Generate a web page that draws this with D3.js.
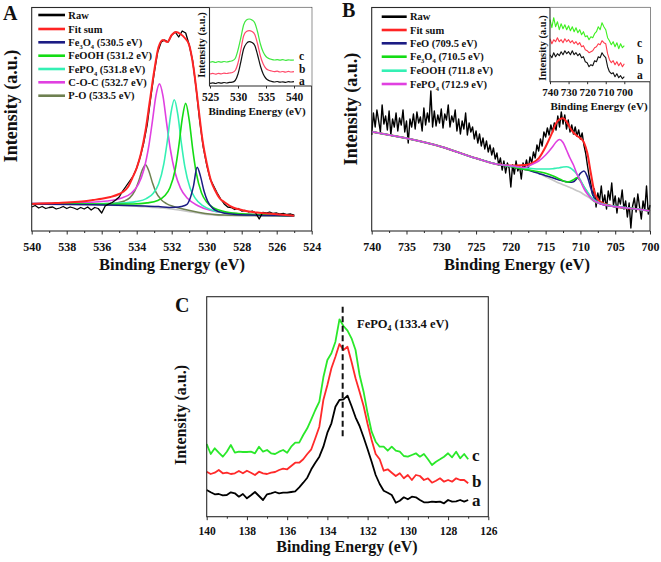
<!DOCTYPE html>
<html><head><meta charset="utf-8">
<script src="https://cdn.jsdelivr.net/npm/d3@7"></script>
<style>body{margin:0;background:#fff} svg text{font-family:"Liberation Serif","Times New Roman",Times,serif;font-weight:bold}</style>
</head><body>
<svg id="c" width="661" height="562"></svg>
<script>
// ================= DATA =================
// Panel A (O 1s) main: energies (eV) and intensities (a.u.)
const aTicks = [540,538,536,534,532,530,528,526,524];
const aMinor = [539,537,535,533,531,529,527,525];
const aRawStart = 540, aRawStep = -0.2;
const aRaw = [24,25.5,23,24.5,22.5,23.5,24,22,23,24.5, 22.5,24,23,21.5,23.5,22,24,21,23.5,22.5,
  18,25,27,28.5,31,34,40,45,50,55, 63,74,88,106,133,158,179,189,191,189,
  196,199,194,200,198,186,170,142,110,84, 66,52,45,38,32,27,24,23.5,21.5,22.5,
  20,20.5,19,20,18,12,18.5,18,19,17.5, 18,17,17.5,16.5,17,16];
const aFitE = [540,539,538,537,536.5,536,535.5,535,534.75,534.5,534.25,534,533.75,533.5,533.25,533,532.75,532.5,532.25,532,531.75,531.5,531.25,531,530.75,530.5,530.25,530,529.75,529.5,529.25,529,528.5,528,527.5,527,526,525];
const aFitV = [27,27.8,28.6,29.8,31,32.2,34,37,39.5,44,53,63,78,100,130,160,184,191,189,196,199,197,193,186,163,128,92,68,50,40,32.5,29,23.5,21,19.3,18.3,16.8,15.3];
const aBgE = [540,538,536,535,534,533.5,533,532.5,532,531.5,531,530.5,530,529.5,529,528,526,525];
const aBgV = [27,26.7,26,25.5,24.7,24.2,23.5,23,22,20.7,19.3,18,16.5,15.8,15.5,15.3,15.1,15];
const aFe3O4E = [540,535.05,533.55,532.75,532.15,531.75,531.45,531.15,530.95,530.75,530.55,530.35,530.15,529.95,529.65,529.35,528.95,528.35,527.55,526.05,525];
const aFe3O4V = [27.1,25.8,24.95,24.4,23.5,23.65,24.45,26.3,32.6,45.45,63.75,54.35,39.75,29.85,22.6,19.6,17.8,16.6,15.95,15.4,15.05];
const aFeOOHE = [540,535.7,534.2,533.4,532.8,532.4,532.1,531.8,531.6,531.4,531.2,531.0,530.8,530.6,530.3,530.0,529.6,529.0,528.2,526.7,525];
const aFeOOHV = [27.3,26.9,27,28.1,30.5,35.2,43.2,61.5,84.1,112,127.6,110.9,81.9,58.3,38.3,28.9,23.1,19.5,17.5,16.2,15.3];
const aFePO4E = [540,536.35,534.85,534.05,533.45,533.05,532.75,532.45,532.25,532.05,531.85,531.65,531.45,531.25,530.95,530.65,530.25,529.65,528.85,527.35,525];
const aFePO4V = [27.4,27.2,27.9,29.4,32.4,37.8,46.9,67.2,90,117.2,131.3,116.3,88.1,64.3,42.9,32.6,25.6,20.6,18,16.3,15.4];
const aCOCE = [540,537.2,535.7,534.9,534.3,533.9,533.6,533.3,533.1,532.9,532.7,532.5,532.3,532.1,531.8,531.5,531.1,530.5,529.7,528.2,525];
const aCOCV = [27.7,28.3,30,32.7,38,46.8,60.8,85.9,110.2,135.4,147.1,135.1,109.2,84.2,58,42.9,32.7,25.3,20.2,17.2,15.6];
const aPOE = [540,538,536.5,535.7,535.1,534.7,534.4,534.1,533.9,533.7,533.5,533.3,533.1,532.9,532.6,532.3,531.9,531.3,530.5,529,525];
const aPOV = [27.2,27.1,26.9,27.45,28.35,30.05,33.15,40.3,49.2,60.2,66.3,59.7,48.2,38.9,31.3,27.4,24.5,21.7,18.8,15.9,15.1];

// Panel A inset (samples a, b, c)
const aiTicks = [525,530,535,540];
const aiStart = 525, aiStep = 0.5;
const aiA = [2.7,3.2,2.5,3.4,2.8,3.5,3,3.6,3.8,5.5,12,24,37,42.5,44.3,43.5,40.5,31,20,12,7.5,5.5,4.6,4,4.5,3.8,4.2,3.6,4.4,4,4.3];
const aiB = [12,12.6,11.8,12.7,12.2,12.9,12.5,13,13.5,15.5,23,36,50,54.5,55.3,54.5,51.5,42,30,22,17.5,15.8,15,14.4,14.8,14,14.5,13.8,14.6,14,14.3];
const aiC = [23.7,24.3,23.5,24.4,23.8,24.5,24,24.6,25.3,27.5,36,48,61,66,67,66,63,54,42,34,29.5,27.5,26.6,26,26.4,25.8,26.3,25.7,26.2,25.8,26];

// Panel B (Fe 2p) main
const bTicks = [740,735,730,725,720,715,710,705,700];
const bMinor = [737.5,732.5,727.5,722.5,717.5,712.5,707.5,702.5];
const bRawStart = 740, bRawStep = -0.25;
const bRaw = [96,118,104,121, 110,99,126,107, 115,101,120,96,
  112,104,118,100, 113,106,121,99, 110,88,112,104,
  117,102,119,108, 114,100,123,106, 118,109,140,104,
  120,105,116,108, 122,103,117,111, 126,104,115,109,
  121,100,112,97, 110,102,118,96, 108,99,104,92,
  100,88,97,85, 93,82,90,79, 86,76,83,72,
  78,66,73,61, 70,58,68,63, 44,66,57,70,
  60,65,52,68, 63,71,62,74, 68,79,73,86,
  80,92,85,99, 94,103,96,106, 99,108,101,115,
  104,119,107,116, 102,111,99,106, 97,104,95,101,
  92,98,86,78, 66,55,47,36, 42,24,38,30,
  45,27,36,22, 40,31,48,26, 35,18,33,27,
  41,22,30,14, 28,3,25,33, 19,37,24,12,
  30,21,45,17, 26];
const bE = [740,735,730,725,722,720,718,717,716,715,714,713.5,713,712.5,712,711.5,711,710.5,710,709.5,709,708.5,708,707.5,707,706,705,702,700];
const bBg    = [99.3,92.7,84.3,72.7,66.7,64.7,62,60.3,57.7,54.3,51,49.3,47.7,46.3,45,43.5,42,40.3,38.7,36.5,34.3,32,29.3,28,26.7,25.3,24.3,22,20];
const bFit   = [99.3,92.7,84.3,72.7,66.7,65.5,66,67.7,72.7,84.3,99.3,107.7,111.7,112.7,109.3,103.3,98.3,95.3,92.7,88.7,77.7,57.7,39.3,31.7,28.7,26,24.3,22,20];
const bFeO   = [99.3,92.7,84.3,72.7,66.7,64.5,61.5,59.8,57.6,55.3,53.3,52,51,50,49.3,48.7,49.3,52.7,57.7,60,54.3,42.7,32.7,28.7,26.9,25.4,24.4,22,20];
const bFe3O4 = [99.3,92.7,84.3,72.7,66.7,64.5,61.5,60.5,59.3,57.7,55.3,53.7,52,50.3,49,49.5,51.3,53.3,50,44.3,38.7,33.3,30,28.2,27.2,25.6,24.5,22,20];
const bFeOOH = [99.3,92.7,84.3,72.7,66.7,65,63,62.5,62,62,62.3,62.8,63.3,64,64.3,63.3,60.7,56.7,51,44.3,39.3,34.3,31,28.8,27.4,25.7,24.6,22.1,20];
const bFePO4 = [99.3,92.7,84.3,72.7,66.7,65.2,63.5,66.5,70,76,84.3,89,91.5,88.5,81,73,66,57,50,42.5,37,33,30,28.4,27,25.5,24.4,22,20];

// Panel B inset (samples a, b, c)
const biTicks = [740,730,720,710,700];
const biStart = 740, biStep = -1;
const biA = [27,24,29,25,28,26,30,27,31,28,30,27,31,27,29,26,28,24,25,20,19,15,17,16,21,20,25,24,29,26,24,15,10,8,9,5,8,4,6,3,5];
const biB = [43,38,42,40,44,40,42,39,43,40,42,39,41,38,40,37,39,35,36,32,31,29,30,31,34,35,38,37,41,39,38,28,22,19,21,17,20,16,19,15,18];
const biC = [62,54,64,55,60,52,58,53,57,52,56,51,55,50,54,49,52,47,50,45,46,42,45,44,48,50,55,52,59,55,52,44,41,37,40,35,39,33,38,34,36];

// Panel C (P 2p)
const cTicks = [140,138,136,134,132,130,128,126];
const cMinor = [139,137,135,133,131,129,127];
const cStart = 140, cStep = -0.2;
const cA = [26.7,24.4,22.4,22.7,21.4,21.7,24.4,23.4,20,22.7, 18.4,21.4,24.7,20.7,16.7,22.4,23.4,24.7,23.4,24,
  24,24.7,25.4,29.4,34,39,47.4,54,60,70, 84,93.4,110,116.7,117.4,121,110.7,99.4,90.7,79.4,
  67.4,55,41.7,32.7,26,24,21.7,14,16,19.4, 17.4,20,19.4,16.7,14.4,14.4,15,14.7,15,13.4,
  16.7,15,15.4,16.7,15,16.7];
const cB = [45,42.7,44,46.7,43.4,44,42.7,43.4,45.7,43.4, 46,44,41.7,45,43.4,42.7,44,44.7,46.7,48,
  47.4,50.7,54,54,57.4,62.7,67.4,78.4,90,116.7, 131.7,148.4,160,172.7,166.7,170,155,138.4,125,110.7,
  92.7,76.7,62.7,57.4,46,47.4,44,40.7,43.4,38.4, 41.7,36.7,41.7,40.7,36.7,38.4,34,36,38.4,35,
  36.7,35,38.4,36.7,36.7,33.4];
const cC = [72.7,62.7,68.4,64,60,65,71.7,64,65,64.7, 64.7,65,63.4,70,65,66.7,63.4,62.7,65,66.7,
  64,70,74,74,81.7,88.4,97.4,106.7,115,139.4, 156.7,163.4,175,197.4,190.7,186,178.4,166.7,141.7,125,
  103.4,85,75,70,70,66,70,66,65,60.7, 60,61.7,63.4,60,62.7,57.4,51.7,55,57.4,60,
  63.4,59.4,65,58.4,62.7,57.4];
const cMarker = 133.24;

// ================= DRAWING =================
const SERIF = '"Liberation Serif","Times New Roman",Times,serif';
const COL = {raw:'#000', fit:'#ff2424', navy:'#1c1c84', green:'#14dc14', teal:'#34f0b4',
  magenta:'#e040e0', olive:'#6e8050', bg:'#c6c6c6', frame:'#2a2a2a'};
const svg = d3.select('#c');

const zip = (E,V) => E.map((e,i)=>[e,V[i]]);
const grid = (s,st,V) => V.map((v,i)=>[s+st*i, v]);

function drawLine(g, data, x, y, color, w, curve){
  g.append('path').datum(data)
    .attr('fill','none').attr('stroke',color).attr('stroke-width',w)
    .attr('stroke-linejoin','round')
    .attr('d', d3.line().x(d=>x(d[0])).y(d=>y(d[1])).curve(curve||d3.curveLinear));
}
function txt(x,y,s,fs,anchor,rot){
  const t = svg.append('text').attr('x',x).attr('y',y).text(s)
    .attr('font-family',SERIF).attr('font-weight','bold').attr('font-size',fs)
    .attr('fill','#111').attr('text-anchor',anchor||'start');
  if(rot) t.attr('transform',`rotate(${rot},${x},${y})`);
  return t;
}
function rich(x,y,parts,fs){
  const t = svg.append('text').attr('x',x).attr('y',y)
    .attr('font-family',SERIF).attr('font-weight','bold').attr('font-size',fs).attr('fill','#111');
  let sub=false;
  parts.forEach(p=>{
    const isSub = Array.isArray(p);
    const s = isSub ? p[0] : p;
    const ts = t.append('tspan').text(s);
    if(isSub && !sub){ ts.attr('dy',fs*0.3).attr('font-size',fs*0.62); sub=true; }
    else if(isSub){ ts.attr('font-size',fs*0.62); }
    else if(sub){ ts.attr('dy',-fs*0.3); sub=false; }
  });
  return t;
}
function xAxis(scale, y, major, minor, fs, pad, size){
  const g = svg.append('g').attr('transform',`translate(0,${y})`)
    .call(d3.axisBottom(scale).tickValues(major).tickSize(size||3.5).tickPadding(pad).tickFormat(d3.format('d')));
  g.attr('font-family',SERIF);
  g.select('.domain').remove();
  g.selectAll('line').attr('stroke',COL.frame);
  g.selectAll('text').attr('font-family',SERIF).attr('font-weight','bold').attr('font-size',fs).attr('fill','#111');
  if(minor){
    const m = svg.append('g').attr('transform',`translate(0,${y})`)
      .call(d3.axisBottom(scale).tickValues(minor).tickSize(2).tickFormat(''));
    m.select('.domain').remove();
    m.selectAll('line').attr('stroke',COL.frame);
  }
}
function frame(x0,y0,x1,y1){
  svg.append('rect').attr('x',x0).attr('y',y0).attr('width',x1-x0).attr('height',y1-y0)
    .attr('fill','none').attr('stroke',COL.frame).attr('stroke-width',1.1);
}
function legend(x0,x1,tx,rows,items,fs){
  items.forEach((it,i)=>{
    svg.append('line').attr('x1',x0).attr('x2',x1).attr('y1',rows[i]).attr('y2',rows[i])
      .attr('stroke',it.c).attr('stroke-width',2.6);
    rich(tx, rows[i]+3.6, it.t, fs);
  });
}

// ---------- Panel A ----------
const xA = d3.scaleLinear().domain([540,524]).range([31.7,311.7]);
const yA = d3.scaleLinear().domain([0,223.5]).range([231,7.5]);
const gA = svg.append('g');
drawLine(gA, zip(aBgE,aBgV), xA, yA, COL.bg, 1.6, d3.curveMonotoneX);
drawLine(gA, zip(aPOE,aPOV), xA, yA, COL.olive, 1.5, d3.curveMonotoneX);
drawLine(gA, zip(aCOCE,aCOCV), xA, yA, COL.magenta, 1.6, d3.curveMonotoneX);
drawLine(gA, zip(aFePO4E,aFePO4V), xA, yA, COL.teal, 1.6, d3.curveMonotoneX);
drawLine(gA, zip(aFeOOHE,aFeOOHV), xA, yA, COL.green, 1.6, d3.curveMonotoneX);
drawLine(gA, zip(aFe3O4E,aFe3O4V), xA, yA, COL.navy, 1.5, d3.curveMonotoneX);
drawLine(gA, grid(aRawStart,aRawStep,aRaw), xA, yA, COL.raw, 1.3);
drawLine(gA, zip(aFitE,aFitV), xA, yA, COL.fit, 2, d3.curveMonotoneX);
frame(31.7,7.5,311.7,231);
xAxis(xA, 231, aTicks, aMinor, 12, 8);
txt(172,270,'Binding Energy (eV)',16.5,'middle');
txt(16.5,106,'Intensity (a.u.)',18,'middle',-90);
txt(3,20,'A',20);
legend(38.3,65,68.3,[15,29,42.3,55.7,69,82.3,95.7],[
  {c:COL.raw,t:['Raw']},
  {c:COL.fit,t:['Fit sum']},
  {c:COL.navy,t:['Fe',['3'],'O',['4'],' (530.5 eV)']},
  {c:COL.green,t:['FeOOH (531.2 eV)']},
  {c:COL.teal,t:['FePO',['4'],' (531.8 eV)']},
  {c:COL.magenta,t:['C-O-C (532.7 eV)']},
  {c:COL.olive,t:['P-O (533.5 eV)']}
],10.5);

// Panel A inset
const xAI = d3.scaleLinear().domain([525,540]).range([210,294]);
const yAI = d3.scaleLinear().domain([0,78.5]).range([86,7.5]);
svg.append('rect').attr('x',209.5).attr('y',7.5).attr('width',102.2).attr('height',78.5).attr('fill','#fff');
const gAI = svg.append('g');
drawLine(gAI, grid(aiStart,aiStep,aiA), xAI, yAI, '#111', 1.2, d3.curveMonotoneX);
drawLine(gAI, grid(aiStart,aiStep,aiB), xAI, yAI, '#ff4a6a', 1.2, d3.curveMonotoneX);
drawLine(gAI, grid(aiStart,aiStep,aiC), xAI, yAI, '#3ee83e', 1.2, d3.curveMonotoneX);
svg.append('path').attr('d','M209.5,7.5V86H311.7').attr('fill','none').attr('stroke',COL.frame).attr('stroke-width',1.1);
xAxis(xAI, 86, aiTicks, null, 11.5, 4, 2.5);
txt(257,114.5,'Binding Energy (eV)',11,'middle');
txt(204.5,45,'Intensity (a.u.)',10.5,'middle',-90);
txt(299,59.5,'c',11.5); txt(299,72.5,'b',11.5); txt(299,85,'a',11.5);

// ---------- Panel B ----------
const xB = d3.scaleLinear().domain([740,700]).range([371.7,650]);
const yB = d3.scaleLinear().domain([0,223.5]).range([231,7.5]);
const gB = svg.append('g');
drawLine(gB, grid(bRawStart,bRawStep,bRaw), xB, yB, COL.raw, 1.4);
drawLine(gB, zip(bE,bFit), xB, yB, COL.fit, 2, d3.curveMonotoneX);
drawLine(gB, zip(bE,bBg), xB, yB, COL.bg, 1.6, d3.curveMonotoneX);
drawLine(gB, zip(bE,bFeO), xB, yB, COL.navy, 1.6, d3.curveMonotoneX);
drawLine(gB, zip(bE,bFe3O4), xB, yB, COL.green, 1.6, d3.curveMonotoneX);
drawLine(gB, zip(bE,bFeOOH), xB, yB, COL.teal, 1.6, d3.curveMonotoneX);
drawLine(gB, zip(bE,bFePO4), xB, yB, COL.magenta, 1.6, d3.curveMonotoneX);
frame(371.7,7.5,650,231);
xAxis(xB, 231, bTicks, bMinor, 12, 8);
txt(517,270,'Binding Energy (eV)',16.5,'middle');
txt(356.5,109,'Intensity (a.u.)',18,'middle',-90);
txt(342,17,'B',20);
legend(381.7,406.7,410,[16.7,30,43.3,56.7,70.7,84],[
  {c:COL.raw,t:['Raw']},
  {c:COL.fit,t:['Fit sum']},
  {c:COL.navy,t:['FeO (709.5 eV)']},
  {c:COL.green,t:['Fe',['3'],'O',['4'],' (710.5 eV)']},
  {c:COL.teal,t:['FeOOH (711.8 eV)']},
  {c:COL.magenta,t:['FePO',['4'],' (712.9 eV)']}
],10.5);

// Panel B inset
const xBI = d3.scaleLinear().domain([740,700]).range([550,624.3]);
const yBI = d3.scaleLinear().domain([0,74.2]).range([81.7,7.5]);
svg.append('rect').attr('x',550).attr('y',7.5).attr('width',100).attr('height',74.2).attr('fill','#fff');
const gBI = svg.append('g');
drawLine(gBI, grid(biStart,biStep,biA), xBI, yBI, '#111', 1.1);
drawLine(gBI, grid(biStart,biStep,biB), xBI, yBI, '#ff3a4a', 1.1);
drawLine(gBI, grid(biStart,biStep,biC), xBI, yBI, '#3ef020', 1.1);
svg.append('path').attr('d','M550,7.5V81.7H650').attr('fill','none').attr('stroke',COL.frame).attr('stroke-width',1.1);
xAxis(xBI, 81.7, biTicks, null, 11, 4, 2.5);
txt(599,110,'Binding Energy (eV)',11,'middle');
txt(545.5,48,'Intensity (a.u.)',10.5,'middle',-90);
txt(637,47,'c',11.5); txt(637,63.5,'b',11.5); txt(637,79,'a',11.5);

// ---------- Panel C ----------
const xC = d3.scaleLinear().domain([140,126]).range([206.7,488.3]);
const yC = d3.scaleLinear().domain([0,220]).range([516.7,296.7]);
const gC = svg.append('g');
drawLine(gC, grid(cStart,cStep,cA), xC, yC, '#000', 1.8);
drawLine(gC, grid(cStart,cStep,cB), xC, yC, '#ff2a2a', 1.8);
drawLine(gC, grid(cStart,cStep,cC), xC, yC, '#2ae82a', 1.8);
svg.append('line').attr('x1',xC(cMarker)).attr('x2',xC(cMarker)).attr('y1',306.7).attr('y2',436.7)
  .attr('stroke','#111').attr('stroke-width',2).attr('stroke-dasharray','6,3.5');
frame(206.7,296.7,488.3,516.7);
xAxis(xC, 516.7, cTicks, cMinor, 11.5, 7);
txt(347,551.5,'Binding Energy (eV)',16,'middle');
txt(185.5,415,'Intensity (a.u.)',16,'middle',-90);
txt(175,312,'C',20);
rich(357,327.5,['FePO',['4'],' (133.4 eV)'],12.5);
txt(472,461,'c',17); txt(472,487,'b',17); txt(472,506,'a',17);
</script>
</body></html>
